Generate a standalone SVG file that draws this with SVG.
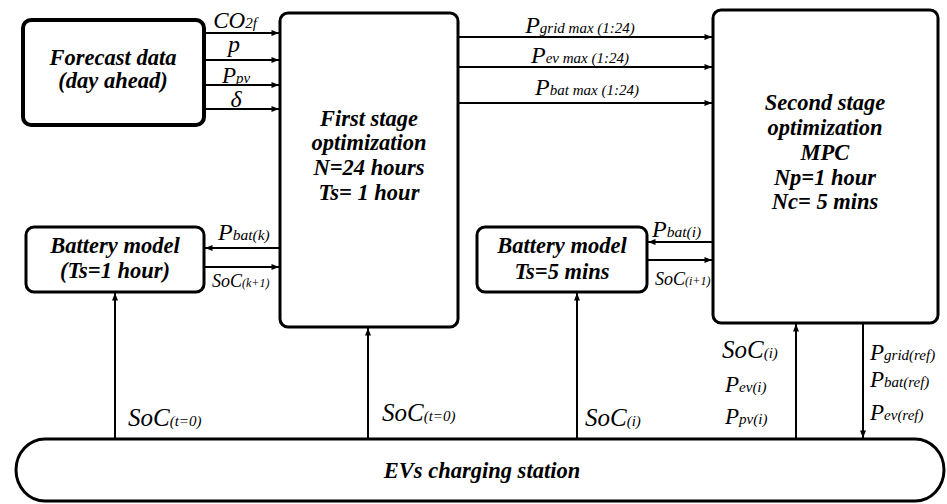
<svg xmlns="http://www.w3.org/2000/svg" width="947" height="504" viewBox="0 0 947 504">
<defs>
<marker id="ah" viewBox="0 0 10 8" refX="10" refY="4" markerWidth="9" markerHeight="6" markerUnits="userSpaceOnUse" orient="auto"><path d="M0,0 L10,4 L0,8 z" fill="#000"/></marker>
<style>
.box{fill:#fff;stroke:#000;stroke-width:3}
.t{font-family:"Liberation Serif","Times New Roman",serif;font-style:italic;font-weight:bold;font-size:22.5px;text-anchor:middle;fill:#000}
.l{font-family:"Liberation Serif","Times New Roman",serif;font-style:italic;font-size:24px;fill:#000}
.m{text-anchor:middle}
.c{stroke:#000;stroke-width:2;fill:none;marker-end:url(#ah)}
</style>
</defs>
<rect width="947" height="504" fill="#fff"/>

<g id="forecast">
<rect class="box" x="23" y="20" width="181" height="105" rx="8" style="stroke-width:4"/>
<text class="t" x="113" y="65">Forecast data</text>
<text class="t" x="113" y="88">(day ahead)</text>
</g>

<g id="first-stage">
<rect class="box" x="280" y="13" width="178" height="314" rx="8"/>
<text class="t" x="369" y="126">First stage</text>
<text class="t" x="369" y="150">optimization</text>
<text class="t" x="369" y="175">N=24 hours</text>
<text class="t" x="369" y="200">Ts= 1 hour</text>
</g>

<g id="second-stage">
<rect class="box" x="713" y="10" width="225" height="313" rx="8"/>
<text class="t" x="825" y="110">Second stage</text>
<text class="t" x="825" y="135">optimization</text>
<text class="t" x="825" y="160">MPC</text>
<text class="t" x="825" y="185">Np=1 hour</text>
<text class="t" x="825" y="209">Nc= 5 mins</text>
</g>

<g id="battery-1">
<rect class="box" x="26" y="227" width="178" height="65" rx="8"/>
<text class="t" x="115" y="253">Battery model</text>
<text class="t" x="115" y="278">(Ts=1 hour)</text>
</g>

<g id="battery-2">
<rect class="box" x="477" y="227" width="170" height="65" rx="8"/>
<text class="t" x="562" y="253">Battery model</text>
<text class="t" x="562" y="279">Ts=5 mins</text>
</g>

<g id="ev-station">
<rect class="box" x="16" y="439" width="928" height="62" rx="29" ry="31"/>
<text class="t" x="482" y="478">EVs charging station</text>
</g>

<g id="connectors">
<line class="c" x1="206" y1="33" x2="279" y2="33"/>
<line class="c" x1="206" y1="60" x2="279" y2="60"/>
<line class="c" x1="206" y1="85" x2="279" y2="85"/>
<line class="c" x1="206" y1="109" x2="279" y2="109"/>
<line class="c" x1="459" y1="37" x2="712" y2="37"/>
<line class="c" x1="459" y1="67" x2="712" y2="67"/>
<line class="c" x1="459" y1="103" x2="712" y2="103"/>
<line class="c" x1="279" y1="248" x2="205" y2="248"/>
<line class="c" x1="205" y1="267" x2="279" y2="267"/>
<line class="c" x1="712" y1="242" x2="648" y2="242"/>
<line class="c" x1="648" y1="260" x2="712" y2="260"/>
<line class="c" x1="115" y1="439" x2="115" y2="293"/>
<line class="c" x1="368" y1="439" x2="368" y2="328"/>
<line class="c" x1="577" y1="439" x2="577" y2="293"/>
<line class="c" x1="796" y1="439" x2="796" y2="324"/>
<line class="c" x1="863" y1="324" x2="863" y2="438"/>
</g>

<g id="labels">
<text class="l m" x="235" y="28" style="font-size:23px">CO<tspan style="font-size:15px">2f</tspan></text>
<text class="l m" x="234" y="52">p</text>
<text class="l m" x="236" y="83" style="font-size:23px">P<tspan style="font-size:15px">pv</tspan></text>
<text class="l m" x="236" y="107">δ</text>

<text class="l m" x="580" y="33">P<tspan style="font-size:15px">grid max (1:24)</tspan></text>
<text class="l m" x="580" y="63">P<tspan style="font-size:15px">ev max (1:24)</tspan></text>
<text class="l m" x="587" y="95">P<tspan style="font-size:15px">bat max (1:24)</tspan></text>

<text class="l" x="218" y="240">P<tspan style="font-size:15.5px">bat(k)</tspan></text>
<text class="l" x="212" y="287" style="font-size:18px">SoC<tspan style="font-size:12px">(k+1)</tspan></text>
<text class="l" x="652" y="237">P<tspan style="font-size:15.5px">bat(i)</tspan></text>
<text class="l" x="655" y="285" style="font-size:18px">SoC<tspan style="font-size:12px">(i+1)</tspan></text>

<text class="l" x="128" y="426" style="font-size:25px">SoC<tspan style="font-size:15px">(t=0)</tspan></text>
<text class="l" x="382" y="421" style="font-size:25px">SoC<tspan style="font-size:15px">(t=0)</tspan></text>
<text class="l" x="585" y="426" style="font-size:25px">SoC<tspan style="font-size:15px">(i)</tspan></text>
<text class="l" x="722" y="358" style="font-size:25px">SoC<tspan style="font-size:15px">(i)</tspan></text>
<text class="l" x="725" y="392" style="font-size:23px">P<tspan style="font-size:15px">ev(i)</tspan></text>
<text class="l" x="725" y="424" style="font-size:23px">P<tspan style="font-size:15px">pv(i)</tspan></text>
<text class="l" x="870" y="360" style="font-size:23px">P<tspan style="font-size:15px">grid(ref)</tspan></text>
<text class="l" x="870" y="387" style="font-size:23px">P<tspan style="font-size:15px">bat(ref)</tspan></text>
<text class="l" x="870" y="420" style="font-size:23px">P<tspan style="font-size:15px">ev(ref)</tspan></text>
</g>
</svg>
